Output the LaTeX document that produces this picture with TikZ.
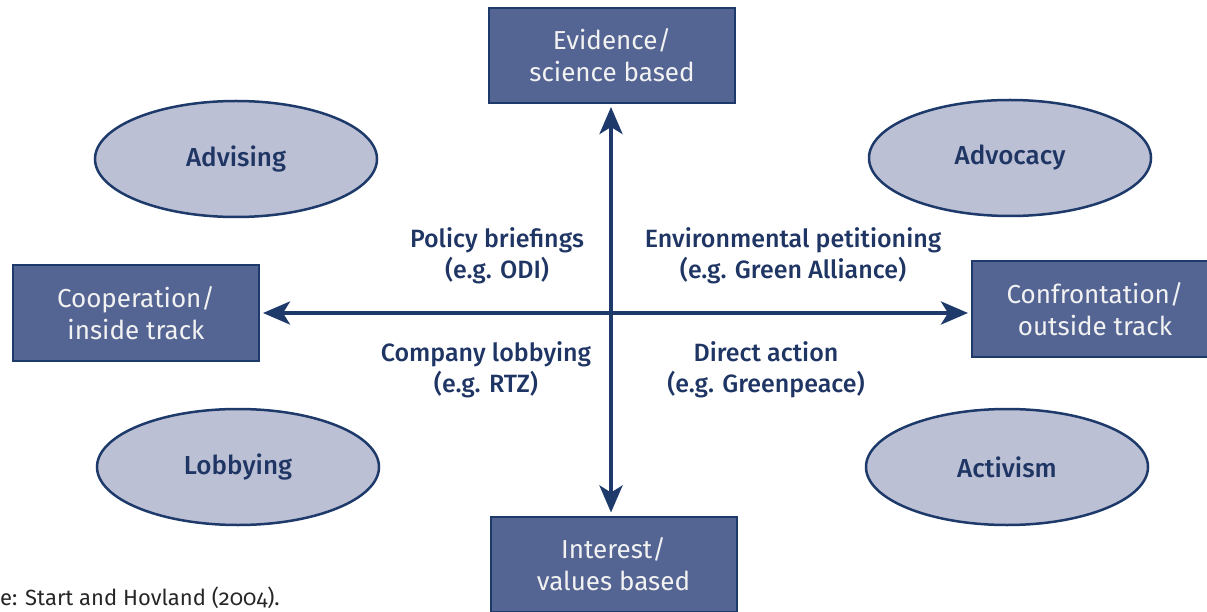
\documentclass[tikz,border=0pt]{standalone}
\usepackage{fontspec}
\setmainfont{Fira Sans}[BoldFont={Fira Sans Medium},Numbers=OldStyle]
\usetikzlibrary{arrows.meta,shapes.geometric}
\definecolor{navy}{HTML}{1E3A6B}
\definecolor{boxfill}{HTML}{546593}
\definecolor{ellfill}{HTML}{BCC0D4}
\definecolor{txt}{HTML}{1F3564}
\definecolor{boxtxt}{HTML}{F2F2F2}
\tikzset{
  axisbox/.style={draw=navy,line width=2pt,fill=boxfill,text=boxtxt,minimum width=246pt,minimum height=95pt,align=center,inner sep=0pt,font=\fontsize{26}{32}\selectfont},
  oval/.style={draw=navy,line width=2.5pt,fill=ellfill,ellipse,minimum width=282pt,minimum height=116pt,inner sep=0pt,text=txt,font=\bfseries\fontsize{26}{31}\selectfont},
  lbl/.style={text=txt,align=center,inner sep=0pt,font=\bfseries\fontsize{25}{31.5}\selectfont},
  axis/.style={draw=navy,line width=4pt,{Stealth[length=27pt,width=23pt,inset=7pt]}-{Stealth[length=27pt,width=23pt,inset=7pt]},shorten <=3pt,shorten >=3pt}
}
\begin{document}
\begin{tikzpicture}[x=1pt,y=-1pt]
\useasboundingbox (0,0) rectangle (1207,612);
\clip (0,0) rectangle (1207,612);
\node[axisbox] (top) at (612,55.5) {Evidence/\\science based};
\node[axisbox] (bot) at (613.5,564) {Interest/\\values based};
\node[axisbox] (left) at (136,313) {Cooperation/\\inside track};
\node[axisbox] (right) at (1095,309) {Confrontation/\\outside track};
\node[oval] (adv) at (236,159) {Advising};
\node[oval] (advo) at (1010,158) {Advocacy};
\node[oval] (lob) at (238,467) {Lobbying};
\node[oval] (act) at (1007,467) {Activism};
\coordinate (hl) at (left.east |- 0,313);
\coordinate (hr) at (right.west |- 0,313);
\coordinate (vt) at (611,0 |- top.south);
\coordinate (vb) at (611,0 |- bot.north);
\draw[axis] (hl) -- (hr);
\draw[axis] (vb) -- (vt);
\node[lbl] (pb) at (497,256) {Policy briefings\\(e.g. ODI)};
\node[lbl] (ep) at (793,256) {Environmental petitioning\\(e.g. Green Alliance)};
\node[lbl] (cl) at (486,370) {Company lobbying\\(e.g. RTZ)};
\node[lbl] (da) at (766,370) {Direct action\\(e.g. Greenpeace)};
\node[anchor=base west,inner sep=0pt,font=\fontsize{22}{26}\selectfont,text=black!85] (src) at (0,605) {e: Start and Hovland (2004).};
\end{tikzpicture}
\end{document}
